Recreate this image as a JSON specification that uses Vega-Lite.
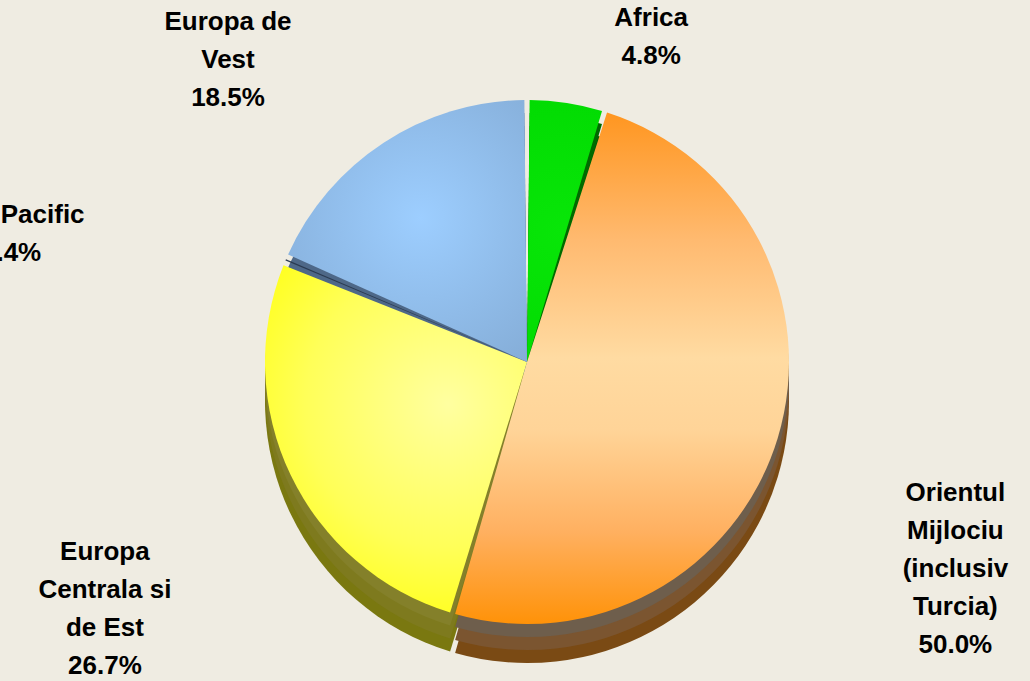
{
  "$schema": "https://vega.github.io/schema/vega-lite/v6.json",
  "width": 1006,
  "height": 700,
  "autosize": {"type": "none"},
  "padding": {"left": 24, "top": 12, "right": 0, "bottom": 0},
  "background": "#efece2",
  "config": {"view": {"stroke": null}, "text": {"lineBreak": "\n"}},
  "data": {
    "values": [
      {"ord": 1, "region": "Africa", "share": 4.8, "label": "Africa\n4.8%"},
      {"ord": 2, "region": "Orientul Mijlociu", "share": 50.0, "label": "Orientul\nMijlociu\n(inclusiv\nTurcia)\n50.0%"},
      {"ord": 3, "region": "Europa Centrala si de Est", "share": 26.7, "label": "Europa\nCentrala si\nde Est\n26.7%"},
      {"ord": 4, "region": "Asia Pacific", "share": 0.4, "label": "Asia Pacific\n0.4%"},
      {"ord": 5, "region": "Europa de Vest", "share": 18.5, "label": "Europa de\nVest\n18.5%"}
    ]
  },
  "encoding": {
    "theta": {"field": "share", "type": "quantitative", "stack": true},
    "order": {"field": "ord", "type": "ordinal"}
  },
  "layer": [
    {
      "mark": {"type": "arc", "outerRadius": 262, "padAngle": 0.02, "yOffset": 39},
      "encoding": {
        "fill": {
          "condition": [
            {"test": "datum.region === 'Africa'", "value": "#005200"},
            {"test": "datum.region === 'Orientul Mijlociu'", "value": "#7a4a14"},
            {"test": "datum.region === 'Europa Centrala si de Est'", "value": "#7a7810"},
            {"test": "datum.region === 'Asia Pacific'", "value": "#1e2a3a"}
          ],
          "value": "#3e5878"
        }
      }
    },
    {
      "mark": {"type": "arc", "outerRadius": 262, "padAngle": 0.02, "yOffset": 26},
      "encoding": {
        "fill": {
          "condition": [
            {"test": "datum.region === 'Africa'", "value": "#005e00"},
            {"test": "datum.region === 'Orientul Mijlociu'", "value": "#7b5530"},
            {"test": "datum.region === 'Europa Centrala si de Est'", "value": "#7e7a1e"},
            {"test": "datum.region === 'Asia Pacific'", "value": "#243245"}
          ],
          "value": "#465f7e"
        }
      }
    },
    {
      "mark": {"type": "arc", "outerRadius": 262, "padAngle": 0.02, "yOffset": 13},
      "encoding": {
        "fill": {
          "condition": [
            {"test": "datum.region === 'Africa'", "value": "#006a00"},
            {"test": "datum.region === 'Orientul Mijlociu'", "value": "#6e5e4c"},
            {"test": "datum.region === 'Europa Centrala si de Est'", "value": "#84802a"},
            {"test": "datum.region === 'Asia Pacific'", "value": "#2a3a50"}
          ],
          "value": "#4e6888"
        }
      }
    },
    {
      "mark": {"type": "arc", "outerRadius": 262, "padAngle": 0.02},
      "encoding": {
        "fill": {
          "condition": [
            {"test": "datum.region === 'Africa'", "value": {"gradient": "radial", "x1": 0.5, "y1": 0.5, "r1": 0, "x2": 0.5, "y2": 0.5, "r2": 0.7, "stops": [{"offset": 0, "color": "#08e608"}, {"offset": 1, "color": "#00d800"}]}},
            {"test": "datum.region === 'Orientul Mijlociu'", "value": {"gradient": "linear", "x1": 0, "y1": 0, "x2": 0, "y2": 1, "stops": [{"offset": 0, "color": "#ff9620"}, {"offset": 0.25, "color": "#ffba70"}, {"offset": 0.48, "color": "#ffdba2"}, {"offset": 0.62, "color": "#ffd498"}, {"offset": 0.82, "color": "#ffb060"}, {"offset": 1, "color": "#ff9208"}]}},
            {"test": "datum.region === 'Europa Centrala si de Est'", "value": {"gradient": "radial", "x1": 0.65, "y1": 0.4, "r1": 0, "x2": 0.65, "y2": 0.4, "r2": 0.75, "stops": [{"offset": 0, "color": "#ffffa0"}, {"offset": 0.55, "color": "#ffff58"}, {"offset": 1, "color": "#ffff00"}]}},
            {"test": "datum.region === 'Asia Pacific'", "value": "#2b3b52"}
          ],
          "value": {"gradient": "radial", "x1": 0.55, "y1": 0.45, "r1": 0, "x2": 0.55, "y2": 0.45, "r2": 0.7, "stops": [{"offset": 0, "color": "#9dceff"}, {"offset": 1, "color": "#84acd6"}]}
        }
      }
    },
    {
      "mark": {"type": "text", "font": "Liberation Sans", "fontWeight": "bold", "fontSize": 26, "lineHeight": 38, "align": "center", "baseline": "middle", "color": "#000000", "radius": 366, "thetaOffset": 0.196},
      "encoding": {"text": {"condition": {"test": "datum.region === 'Africa'", "field": "label"}, "value": ""}}
    },
    {
      "mark": {"type": "text", "font": "Liberation Sans", "fontWeight": "bold", "fontSize": 26, "lineHeight": 38, "align": "center", "baseline": "middle", "color": "#000000", "radius": 448, "thetaOffset": 0.003},
      "encoding": {"text": {"condition": {"test": "datum.region === 'Orientul Mijlociu'", "field": "label"}, "value": ""}}
    },
    {
      "mark": {"type": "text", "font": "Liberation Sans", "fontWeight": "bold", "fontSize": 26, "lineHeight": 38, "align": "center", "baseline": "middle", "color": "#000000", "radius": 463, "thetaOffset": 0.024},
      "encoding": {"text": {"condition": {"test": "datum.region === 'Europa Centrala si de Est'", "field": "label"}, "value": ""}}
    },
    {
      "mark": {"type": "text", "font": "Liberation Sans", "fontWeight": "bold", "fontSize": 26, "lineHeight": 38, "align": "center", "baseline": "middle", "color": "#000000", "radius": 536, "thetaOffset": -0.1225},
      "encoding": {"text": {"condition": {"test": "datum.region === 'Asia Pacific'", "field": "label"}, "value": ""}}
    },
    {
      "mark": {"type": "text", "font": "Liberation Sans", "fontWeight": "bold", "fontSize": 26, "lineHeight": 38, "align": "center", "baseline": "middle", "color": "#000000", "radius": 453, "thetaOffset": -0.142},
      "encoding": {"text": {"condition": {"test": "datum.region === 'Europa de Vest'", "field": "label"}, "value": ""}}
    }
  ]
}
